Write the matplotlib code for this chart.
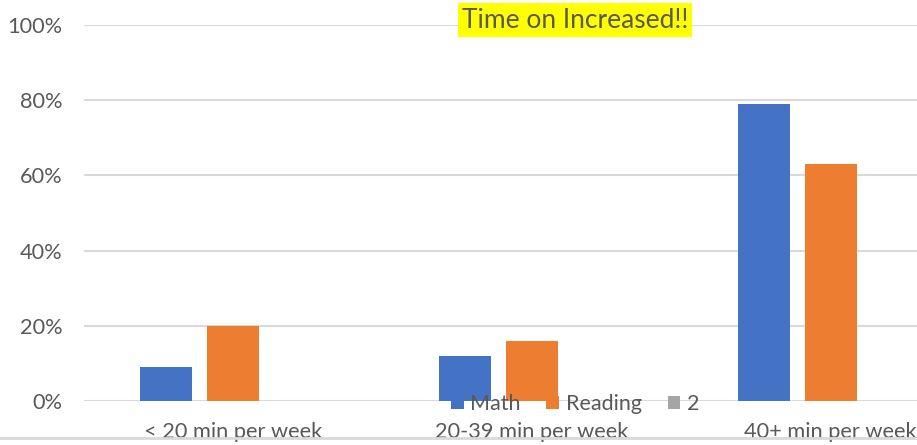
import matplotlib.pyplot as plt
import numpy as np

categories = ['< 20 min per week', '20-39 min per week', '40+ min per week']
series_names = ['Math', 'Reading', '2']
math_vals = [0.09, 0.12, 0.79]
reading_vals = [0.20, 0.16, 0.63]
two_vals = [0.0, 0.0, 0.0]
colors = ['#4472c4', '#ed7d31', '#a5a5a5']
text_col = '#595959'

plt.rcParams['font.family'] = ['Lato', 'DejaVu Sans']

fig = plt.figure(figsize=(9.17, 4.45), dpi=100)
W, H = 917, 445
ax = fig.add_axes([83.5 / W, 44 / H, 1 - 83.5 / W, 376 / H])

x = np.arange(len(categories))
width = 52 / 299
offset = 67 / 299
for i, (vals, name) in enumerate(zip([math_vals, reading_vals, two_vals], series_names)):
    ax.bar(x + (i - 1) * offset, vals, width, color=colors[i], label=name, zorder=3)

ax.set_ylim(0, 1.0)
ax.set_xlim(-0.5, 2.5 - 63 / 299)
ax.set_yticks(np.arange(0, 1.01, 0.2))
ax.set_yticklabels([f'{int(round(v * 100))}%' for v in np.arange(0, 1.01, 0.2)])
ax.set_xticks(x)
ax.set_xticklabels(categories)
ax.grid(axis='y', color='#d9d9d9', linewidth=1.5, zorder=0)
for s in ax.spines.values():
    s.set_visible(False)
ax.tick_params(axis='both', length=0, colors=text_col, labelsize=15.7)
ax.tick_params(axis='y', pad=15)
ax.tick_params(axis='x', pad=15)

fig.legend(loc='center', bbox_to_anchor=(575 / W, 41 / H), ncol=3, frameon=False,
           fontsize=15.5, labelcolor=text_col, handlelength=0.6, handleheight=0.6,
           handletextpad=0.3, columnspacing=1.2)

fig.text(575 / W, 1 - 20 / H, 'Time on Increased!!', ha='center', va='center',
         fontsize=19, color=text_col,
         bbox=dict(facecolor='yellow', edgecolor='none', pad=3))

fig.add_artist(plt.Line2D([0, 1], [1 - 438 / H] * 2, color='#d9d9d9', linewidth=2,
                          transform=fig.transFigure))

fig.savefig('out.png', dpi=100)
